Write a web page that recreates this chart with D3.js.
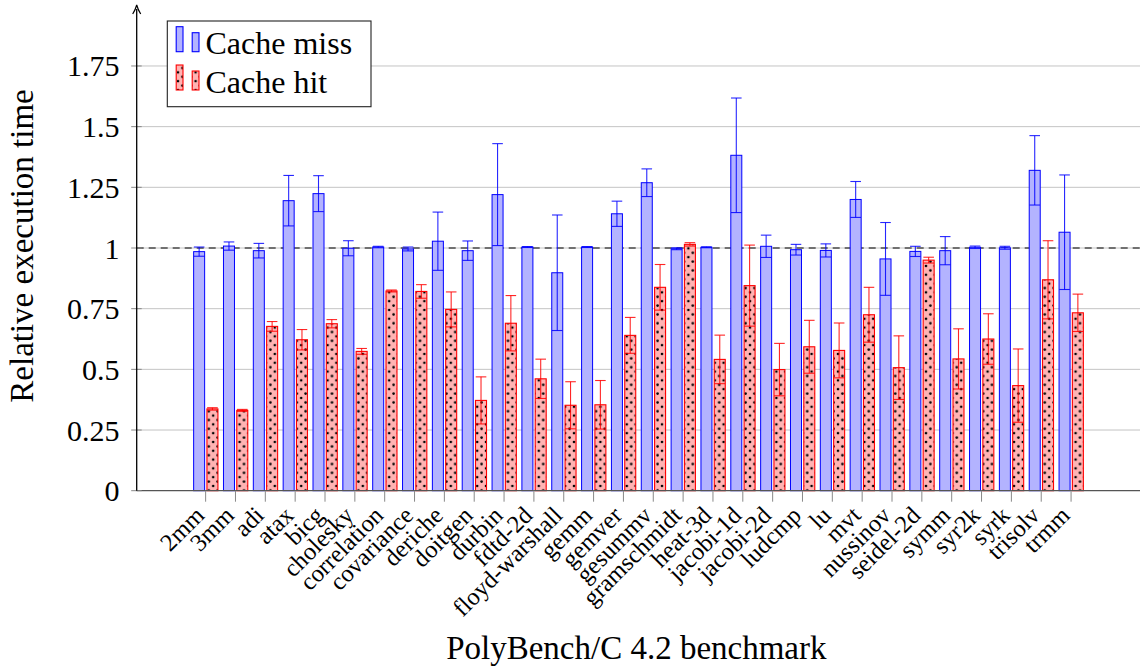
<!DOCTYPE html>
<html>
<head>
<meta charset="utf-8">
<script src="https://cdn.jsdelivr.net/npm/d3@7/dist/d3.min.js"></script>
<style>
  html, body { margin: 0; padding: 0; background: #ffffff; }
  svg { display: block; }
  text { font-family: "Liberation Serif", "DejaVu Serif", serif; fill: #000; }
</style>
</head>
<body>
<svg id="chart" width="1140" height="672"></svg>
<script>
const categories = ["2mm","3mm","adi","atax","bicg","cholesky","correlation","covariance","deriche","doitgen","durbin","fdtd-2d","floyd-warshall","gemm","gemver","gesummv","gramschmidt","heat-3d","jacobi-1d","jacobi-2d","ludcmp","lu","mvt","nussinov","seidel-2d","symm","syr2k","syrk","trisolv","trmm"];
const missValues = [0.985,1.008,0.989,1.195,1.224,0.999,1.004,0.996,1.028,0.989,1.22,1.004,0.898,1.004,1.141,1.269,0.997,1.003,1.382,1.007,0.993,0.99,1.2,0.955,0.986,0.989,1.003,1.001,1.32,1.065];
const missErrors = [0.019,0.017,0.03,0.104,0.074,0.031,0.003,0.008,0.12,0.04,0.21,0.002,0.238,0.002,0.052,0.057,0.004,0.002,0.236,0.046,0.022,0.027,0.074,0.15,0.021,0.058,0.005,0.006,0.143,0.236];
const hitValues = [0.337,0.331,0.677,0.622,0.688,0.574,0.823,0.821,0.747,0.372,0.69,0.461,0.352,0.354,0.64,0.838,1.015,0.541,0.845,0.499,0.593,0.578,0.725,0.507,0.95,0.543,0.625,0.433,0.869,0.733];
const hitErrors = [0.005,0.004,0.02,0.042,0.017,0.012,0.004,0.028,0.072,0.097,0.114,0.081,0.097,0.1,0.074,0.094,0.007,0.1,0.167,0.108,0.109,0.113,0.113,0.131,0.012,0.124,0.104,0.151,0.161,0.077];
const yTicks = [0,0.25,0.5,0.75,1,1.25,1.5,1.75];
const yTickLabels = ["0","0.25","0.5","0.75","1","1.25","1.5","1.75"];
const seriesNames = ["Cache miss","Cache hit"];
const referenceLine = 1;

const svg = d3.select("#chart");
const pLeft = 136.7, pRight = 1140, pBottom = 490.7, pTop = 5.3;

const x = d3.scalePoint().domain(categories).range([pLeft, pRight]).padding(2.31);
const y = d3.scaleLinear().domain([0, 2]).range([pBottom, pTop]);

// pattern
const defs = svg.append("defs");
const T = 8.8;
const pat = defs.append("pattern").attr("id", "dots")
  .attr("patternUnits", "userSpaceOnUse").attr("width", T).attr("height", T);
pat.append("rect").attr("width", T).attr("height", T).attr("fill", "#ffb3b3");
pat.append("circle").attr("cx", 2).attr("cy", 2).attr("r", 1.3).attr("fill", "#000");
pat.append("circle").attr("cx", 2 + T / 2).attr("cy", 2 + T / 2).attr("r", 1.3).attr("fill", "#000");

// grid
svg.append("g").selectAll("line").data(yTicks.filter(d => d > 0)).join("line")
  .attr("x1", pLeft).attr("x2", pRight)
  .attr("y1", d => y(d)).attr("y2", d => y(d))
  .attr("stroke", "#c4c4c4").attr("stroke-width", 1);

// reference dashed line
svg.append("line")
  .attr("x1", pLeft).attr("x2", pRight)
  .attr("y1", y(referenceLine)).attr("y2", y(referenceLine))
  .attr("stroke", "#000").attr("stroke-width", 1.1).attr("stroke-dasharray", "7,5");

const barW = 11;
const data = categories.map((c, i) => ({c, miss: missValues[i], missErr: missErrors[i], hit: hitValues[i], hitErr: hitErrors[i]}));

// bars
const g = svg.append("g");
g.selectAll("rect.miss").data(data).join("rect").attr("class", "miss")
  .attr("x", d => x(d.c) - 12).attr("width", barW)
  .attr("y", d => y(d.miss)).attr("height", d => y(0) - y(d.miss))
  .attr("fill", "#b3b3ff").attr("stroke", "#0000ff").attr("stroke-width", 1);
g.selectAll("rect.hit").data(data).join("rect").attr("class", "hit")
  .attr("x", d => x(d.c) + 1.3).attr("width", barW)
  .attr("y", d => y(d.hit)).attr("height", d => y(0) - y(d.hit))
  .attr("fill", "url(#dots)").attr("stroke", "#ff0000").attr("stroke-width", 1.1);

// error bars
function errBars(offset, valKey, errKey, color) {
  const eg = svg.append("g").attr("stroke", color).attr("stroke-width", 1.1).attr("stroke-opacity", 0.85);
  const capW = 5.3;
  data.forEach(d => {
    const cx = x(d.c) + offset;
    const lo = y(d[valKey] - d[errKey]), hi = y(d[valKey] + d[errKey]);
    eg.append("line").attr("x1", cx).attr("x2", cx).attr("y1", lo).attr("y2", hi);
    eg.append("line").attr("x1", cx - capW).attr("x2", cx + capW).attr("y1", lo).attr("y2", lo);
    eg.append("line").attr("x1", cx - capW).attr("x2", cx + capW).attr("y1", hi).attr("y2", hi);
  });
}
errBars(-6.5, "miss", "missErr", "#0000ff");
errBars(6.8, "hit", "hitErr", "#ff0000");

// x axis
svg.append("line").attr("x1", pLeft).attr("x2", pRight).attr("y1", pBottom).attr("y2", pBottom)
  .attr("stroke", "#555").attr("stroke-width", 1.3);
svg.append("g").selectAll("line").data(categories).join("line")
  .attr("x1", d => x(d)).attr("x2", d => x(d)).attr("y1", pBottom).attr("y2", pBottom + 11)
  .attr("stroke", "#888").attr("stroke-width", 1);
svg.append("g").selectAll("text").data(categories).join("text")
  .attr("transform", d => `translate(${x(d) - 6},${pBottom + 20}) rotate(-45)`)
  .attr("text-anchor", "end").attr("dy", "0.35em")
  .attr("font-size", 24.5).text(d => d);

// y axis
svg.append("g").selectAll("line").data(yTicks).join("line")
  .attr("x1", pLeft - 5.5).attr("x2", pLeft + 5)
  .attr("y1", d => y(d)).attr("y2", d => y(d))
  .attr("stroke", "#888").attr("stroke-width", 1);
svg.append("line").attr("x1", pLeft).attr("x2", pLeft).attr("y1", pBottom).attr("y2", 9)
  .attr("stroke", "#000").attr("stroke-width", 1.3);
svg.append("path").attr("d", `M${pLeft - 4},${14} Q${pLeft - 1},${9} ${pLeft},${5} Q${pLeft + 1},${9} ${pLeft + 4},${14}`)
  .attr("fill", "none").attr("stroke", "#000").attr("stroke-width", 1.2);
svg.append("g").selectAll("text").data(yTicks).join("text")
  .attr("x", 119.5).attr("y", d => y(d)).attr("dy", "0.35em")
  .attr("text-anchor", "end").attr("font-size", 30)
  .text((d, i) => yTickLabels[i]);

// axis labels
svg.append("text").attr("transform", `translate(33,${(pBottom + pTop) / 2 - 2}) rotate(-90)`)
  .attr("text-anchor", "middle").attr("font-size", 33).text("Relative execution time");
svg.append("text").attr("x", (pLeft + pRight) / 2 - 2).attr("y", 659)
  .attr("text-anchor", "middle").attr("font-size", 33).text("PolyBench/C 4.2 benchmark");

// legend
const lg = svg.append("g");
lg.append("rect").attr("x", 167.3).attr("y", 21).attr("width", 203.7).attr("height", 85.7)
  .attr("fill", "#fff").attr("stroke", "#222").attr("stroke-width", 1.1);
const legendRows = [
  {name: seriesNames[0], fill: "#b3b3ff", stroke: "#0000ff", y0: 51.7},
  {name: seriesNames[1], fill: "url(#dots)", stroke: "#ff0000", y0: 90}
];
legendRows.forEach(r => {
  lg.append("rect").attr("x", 176.2).attr("y", r.y0 - 25).attr("width", 6.8).attr("height", 25)
    .attr("fill", r.fill).attr("stroke", r.stroke).attr("stroke-width", 1.1);
  lg.append("rect").attr("x", 192.2).attr("y", r.y0 - 19).attr("width", 6.8).attr("height", 19)
    .attr("fill", r.fill).attr("stroke", r.stroke).attr("stroke-width", 1.1);
  lg.append("text").attr("x", 205.5).attr("y", r.y0 + 2.6).attr("font-size", 32).text(r.name);
});
</script>
</body>
</html>
